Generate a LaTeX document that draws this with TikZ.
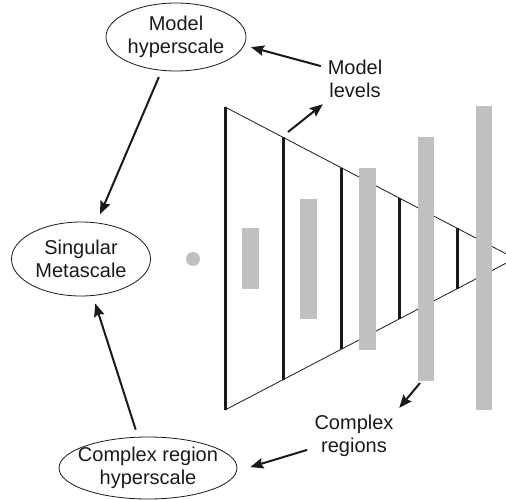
\documentclass[tikz,border=0pt]{standalone}
\usepackage{fontspec}
\setmainfont{Liberation Sans}
\usetikzlibrary{arrows.meta,shapes.geometric}
\definecolor{regiongray}{HTML}{C0C0C0}
\definecolor{ink}{HTML}{1A1A1A}
\begin{document}
\begin{tikzpicture}[x=1pt,y=-1pt,
  txt/.style={font=\fontsize{20}{23}\selectfont, text=ink, align=center},
  ell/.style={txt, draw=ink, line width=0.8pt, ellipse, inner sep=0pt},
  lbl/.style={txt, inner sep=0pt},
  arr/.style={draw=ink, line width=2pt, -{Stealth[length=13pt,width=10.5pt,inset=2pt]}},
  edge/.style={draw=ink, line width=0.8pt},
  lvl/.style={draw=ink, line width=3pt},
  reg/.style={fill=regiongray, draw=none, inner sep=0pt, minimum width=16.5pt}]
\useasboundingbox (0,0) rectangle (506,500);
\begin{scope}
\clip (0,0) rectangle (506,500);
% ellipses
\node[ell, minimum width=140pt, minimum height=68pt] (mh) at (176,37) {Model\\hyperscale};
\node[ell, minimum width=139pt, minimum height=74pt] (sm) at (81,259) {Singular\\Metascale};
\node[ell, inner xsep=-8pt, minimum width=178pt, minimum height=62pt] (crh) at (148,468) {Complex region\\hyperscale};
% labels
\node[lbl] (ml) at (355,79) {Model\\levels};
\node[lbl] (cr) at (354,435.6) {Complex\\regions};
% gray dot
\fill[regiongray] (193,259) circle (7);
% triangle (model levels)
\coordinate (apex) at (515,258.5);
\coordinate (tl) at (225,107);
\coordinate (bl) at (225,410);
\draw[edge] (tl) -- (apex) -- (bl);
\foreach \k in {0,...,4}{
  \pgfmathsetmacro{\xx}{225+58*\k}
  \pgfmathsetmacro{\hh}{151.5-30.3*\k}
  \draw[lvl] (\xx,258.5-\hh) -- (\xx,258.5+\hh);
}
% complex regions (gray bars)
\node[reg, minimum height=61pt]  (r1) at (250.5,258.5) {};
\node[reg, minimum height=120pt] (r2) at (308.5,258.5) {};
\node[reg, minimum height=182pt] (r3) at (367.5,258.5) {};
\node[reg, minimum height=244pt] (r4) at (426,259) {};
\node[reg, minimum height=304pt] (r5) at (484,258) {};
% connectors
\coordinate (lvpt) at (288,132);
\coordinate (r4pt) at (420,383);
\draw[arr, shorten <=7pt, shorten >=9pt] (mh) -- (sm);
\draw[arr, shorten <=7.5pt, shorten >=8pt] (crh) -- (sm);
\draw[arr, shorten <=7pt, shorten >=7pt] (ml.158) -- (mh.-7);
\draw[arr, shorten >=10pt] (lvpt) -- (ml.218);
\draw[arr, shorten >=8.7pt] (r4pt) -- (cr.north east);
\draw[arr, shorten <=7.5pt, shorten >=14pt] (cr.197) -- (crh.-2);
\end{scope}
\end{tikzpicture}
\end{document}
